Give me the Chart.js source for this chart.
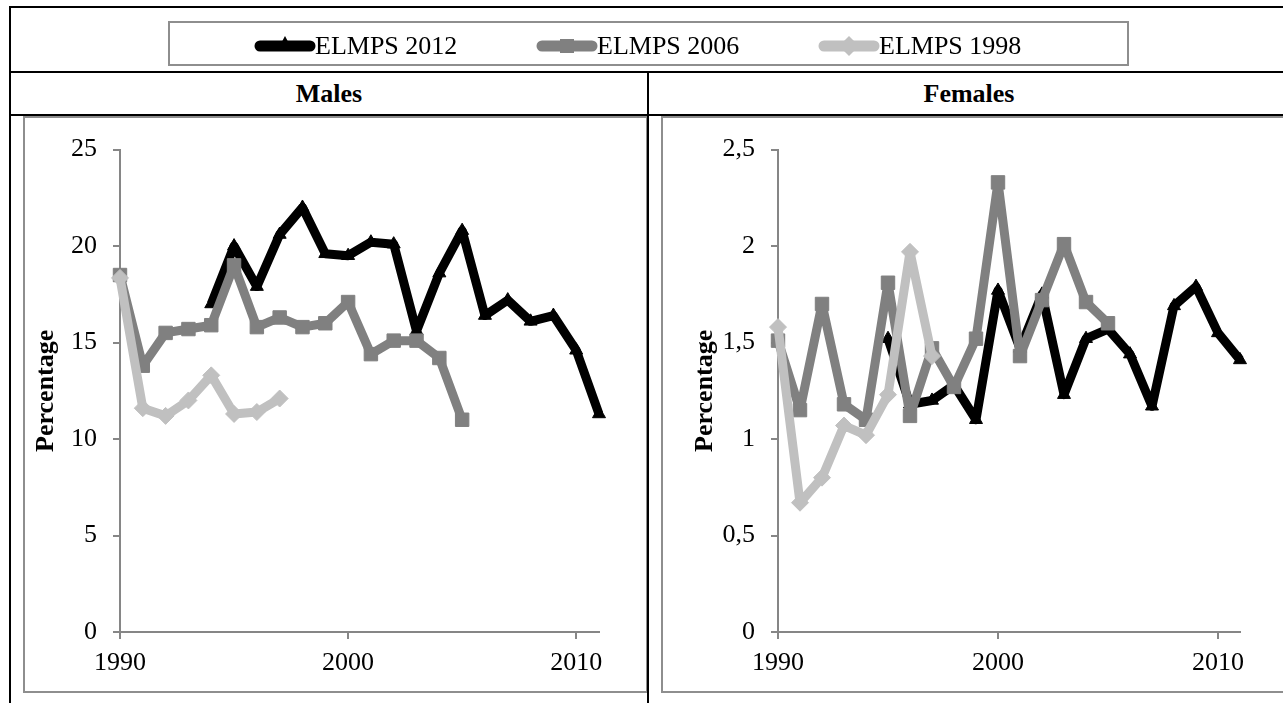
<!DOCTYPE html>
<html>
<head>
<meta charset="utf-8">
<script src="https://cdn.jsdelivr.net/npm/chart.js@4.4.1/dist/chart.umd.min.js"></script>
<style>
  html, body { margin: 0; padding: 0; background: #fff; }
  body { width: 1283px; height: 703px; position: relative; overflow: hidden;
         font-family: 'Liberation Serif', 'Times New Roman', serif; color: #000; }
  .rule { position: absolute; background: #000; }
  .box { position: absolute; border: 2px solid #8e8e8e; box-sizing: border-box; }
  .head { position: absolute; top: 72px; height: 43px; line-height: 43px;
          font-weight: bold; font-size: 26px; text-align: center; }
  .legend-item { position: absolute; top: 31px; height: 30px; line-height: 30px; font-size: 26px; white-space: nowrap; }
  .legend-item canvas { position: absolute; top: 3px; }
  .legend-item span { position: absolute; }
  canvas.panel { position: absolute; }
</style>
</head>
<body>

<!-- table frame -->
<div class="rule" style="left:9px;top:6px;width:1300px;height:2px"></div>
<div class="rule" style="left:9px;top:6px;width:2px;height:700px"></div>
<div class="rule" style="left:9px;top:71px;width:1300px;height:2px"></div>
<div class="rule" style="left:9px;top:114px;width:1300px;height:2px"></div>

<!-- legend row -->
<div class="box" style="left:168px;top:21px;width:961px;height:45px"></div>
<div id="legend"></div>

<!-- header row -->
<div class="head" style="left:11px;width:636px">Males</div>
<div class="head" style="left:649px;width:640px">Females</div>

<!-- chart panels -->
<div class="box" style="left:23px;top:116px;width:625px;height:577px"></div>
<div class="box" style="left:661px;top:116px;width:640px;height:577px"></div>
<canvas class="panel" id="males" width="621" height="573" style="left:25px;top:118px"></canvas>
<canvas class="panel" id="females" width="620" height="573" style="left:663px;top:118px"></canvas>

<div class="rule" style="left:647px;top:71px;width:2px;height:640px"></div>

<script>
// ---- data -------------------------------------------------------------
const seriesNames = ['ELMPS 2012', 'ELMPS 2006', 'ELMPS 1998'];

const years2012M = [1994, 1995, 1996, 1997, 1998, 1999, 2000, 2001, 2002, 2003, 2004, 2005, 2006, 2007, 2008, 2009, 2010, 2011];
const males2012  = [17.0, 20.0, 17.9, 20.6, 22.0, 19.6, 19.5, 20.2, 20.1, 15.6, 18.6, 20.8, 16.4, 17.2, 16.1, 16.4, 14.6, 11.3];
const years2006  = [1990, 1991, 1992, 1993, 1994, 1995, 1996, 1997, 1998, 1999, 2000, 2001, 2002, 2003, 2004, 2005];
const males2006  = [18.5, 13.8, 15.5, 15.7, 15.9, 19.0, 15.8, 16.3, 15.8, 16.0, 17.1, 14.4, 15.1, 15.1, 14.2, 11.0];
const years1998  = [1990, 1991, 1992, 1993, 1994, 1995, 1996, 1997];
const males1998  = [18.35, 11.6, 11.2, 12.0, 13.3, 11.3, 11.4, 12.1];

const years2012F = [1995, 1996, 1997, 1998, 1999, 2000, 2001, 2002, 2003, 2004, 2005, 2006, 2007, 2008, 2009, 2010, 2011];
const females2012 = [1.52, 1.18, 1.20, 1.28, 1.10, 1.77, 1.47, 1.75, 1.23, 1.52, 1.57, 1.44, 1.17, 1.69, 1.79, 1.55, 1.41];
const females2006 = [1.51, 1.15, 1.70, 1.18, 1.10, 1.81, 1.12, 1.47, 1.27, 1.52, 2.33, 1.43, 1.72, 2.01, 1.71, 1.60];
const females1998 = [1.58, 0.67, 0.80, 1.07, 1.02, 1.23, 1.97, 1.43];

const xTicks = [1990, 2000, 2010];
const yTicksMales = [0, 5, 10, 15, 20, 25];
const yTicksFemales = [0, 0.5, 1, 1.5, 2, 2.5];
const yLabelsFemales = ['0', '0,5', '1', '1,5', '2', '2,5'];

// ---- styles -----------------------------------------------------------
const FONT = "'Liberation Serif', 'Times New Roman', serif";
const AXIS = '#868686';
const looks = [
  { color: '#000000', pointStyle: 'triangle', radius: 7.5, order: 2 },
  { color: '#808080', pointStyle: 'rect',     radius: 9.5, order: 1 },
  { color: '#c0c0c0', pointStyle: 'rectRot',  radius: 8.5, order: 0 }
];

function toPoints(xs, ys) { return xs.map((x, i) => ({ x: x, y: ys[i] })); }

function makeDatasets(pairs) {
  return pairs.map((p, i) => ({
    label: seriesNames[i],
    data: toPoints(p[0], p[1]),
    borderColor: looks[i].color,
    backgroundColor: looks[i].color,
    pointBackgroundColor: looks[i].color,
    pointBorderColor: looks[i].color,
    pointBorderWidth: 1,
    pointStyle: looks[i].pointStyle,
    pointRadius: looks[i].radius,
    borderWidth: 9,
    borderJoinStyle: 'round',
    tension: 0,
    fill: false,
    clip: false,
    order: looks[i].order
  }));
}

function panel(id, datasets, yTicks, yLabel, cfg) {
  return new Chart(document.getElementById(id), {
    type: 'line',
    data: { datasets: datasets },
    options: {
      responsive: false,
      animation: false,
      events: [],
      layout: { padding: { left: 0, top: 30, right: cfg.right, bottom: 0 } },
      plugins: { legend: { display: false }, tooltip: { enabled: false } },
      scales: {
        x: {
          type: 'linear', min: 1990, max: 2011,
          afterBuildTicks: s => { s.ticks = xTicks.map(v => ({ value: v })); },
          afterFit: s => { s.height = 59; },
          border: { color: AXIS, width: 2 },
          grid: { drawOnChartArea: false, drawTicks: true, tickLength: 7, color: AXIS, lineWidth: 2 },
          ticks: { font: { family: FONT, size: 26 }, color: '#000', padding: 9,
                   maxRotation: 0, autoSkip: false, callback: v => String(v) }
        },
        y: {
          type: 'linear', min: 0, max: yTicks[yTicks.length - 1],
          afterBuildTicks: s => { s.ticks = yTicks.map(v => ({ value: v })); },
          afterFit: s => { s.width = cfg.axisWidth; },
          border: { color: AXIS, width: 2 },
          grid: { drawOnChartArea: false, drawTicks: true, tickLength: 7, color: AXIS, lineWidth: 2 },
          title: { display: true, text: 'Percentage', color: '#000',
                   font: { family: FONT, size: 26, weight: 'bold' },
                   padding: { top: cfg.titlePad, bottom: 0 } },
          ticks: { font: { family: FONT, size: 26 }, color: '#000', padding: 16,
                   autoSkip: false, callback: yLabel }
        }
      }
    }
  });
}

const malesChart = panel('males',
  makeDatasets([[years2012M, males2012], [years2006, males2006], [years1998, males1998]]),
  yTicksMales, v => String(v),
  { right: 47, axisWidth: 95, titlePad: 6 });

panel('females',
  makeDatasets([[years2012F, females2012], [years2006, females2006], [years1998, females1998]]),
  yTicksFemales, v => yLabelsFemales[yTicksFemales.indexOf(v)],
  { right: 43, axisWidth: 115, titlePad: 27 });

// ---- legend built from the dataset styles ----------------------------
const legendX = [254, 536, 818];
const legend = document.getElementById('legend');
malesChart.data.datasets.forEach((ds, i) => {
  const item = document.createElement('div');
  item.className = 'legend-item';
  item.style.left = legendX[i] + 'px';
  const c = document.createElement('canvas');
  c.width = 62; c.height = 24;
  const g = c.getContext('2d');
  g.strokeStyle = ds.borderColor; g.fillStyle = ds.borderColor;
  g.lineWidth = 11; g.lineCap = 'round';
  g.beginPath(); g.moveTo(6, 12); g.lineTo(56, 12); g.stroke();
  const cx = 31, cy = 12;
  g.beginPath();
  if (ds.pointStyle === 'triangle') {
    g.moveTo(cx, cy - 10); g.lineTo(cx + 8, cy + 5); g.lineTo(cx - 8, cy + 5);
  } else if (ds.pointStyle === 'rect') {
    g.rect(cx - 7, cy - 7, 14, 14);
  } else {
    g.moveTo(cx, cy - 10); g.lineTo(cx + 10, cy); g.lineTo(cx, cy + 10); g.lineTo(cx - 10, cy);
  }
  g.closePath(); g.fill();
  item.appendChild(c);
  const t = document.createElement('span');
  t.style.left = '61px';
  t.textContent = ds.label;
  item.appendChild(t);
  legend.appendChild(item);
});
</script>
</body>
</html>
